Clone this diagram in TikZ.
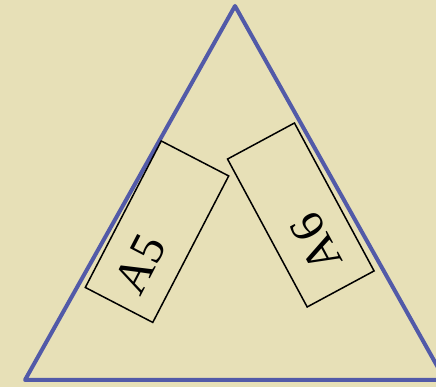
\documentclass[tikz,border=0pt]{standalone}
\usepackage{fontspec}
\setmainfont{Liberation Serif}
\definecolor{paper}{RGB}{231,224,183}
\definecolor{edge}{RGB}{82,90,168}

\begin{document}
\begin{tikzpicture}[x=1pt, y=1pt,
    sheet/.style = {rectangle, draw=black, line width=1.5pt, minimum height=76pt, inner ysep=0pt, align=left, font=\fontsize{48}{48}\selectfont},
    side/.style = {draw=edge, line width=4pt, line join=round}
]
\fill[paper] (0,0) rectangle (436,387);
\useasboundingbox (0,0) rectangle (436,387);
\clip (0,0) rectangle (436,387);

% triangle
\coordinate (top) at (235,381);
\coordinate (left) at (25,7);
\coordinate (right) at (445,7);
\draw[side] (top) -- (left) -- (right) -- cycle;

% the two sheets
\node (a5) [sheet, rotate=62.6, inner xsep=17pt, text width=131pt] at (157,155.3) {A5};
\node (a6) [sheet, rotate=118.3, inner xsep=23pt, text width=122pt] at (300.8,172) {A6};
\end{tikzpicture}
\end{document}
